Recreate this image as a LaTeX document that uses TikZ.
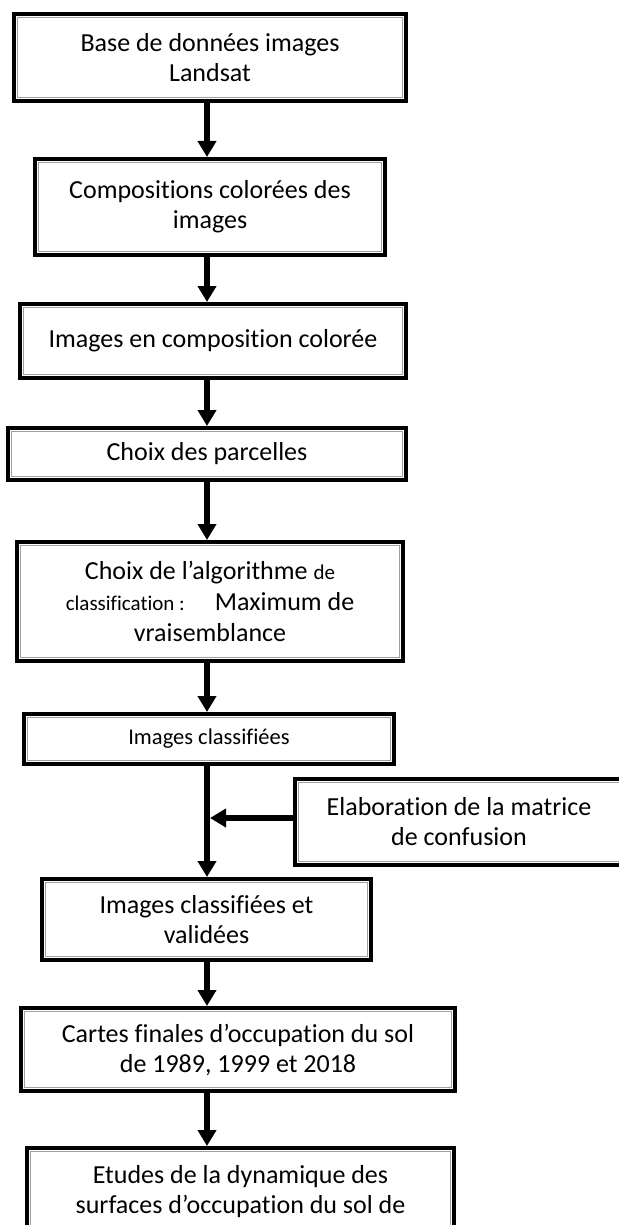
\documentclass[tikz,border=0pt]{standalone}
\usepackage{fontspec}
\setmainfont{Carlito}[Ligatures={NoCommon}]
\usetikzlibrary{arrows.meta}
\begin{document}
\begin{tikzpicture}[x=1pt,y=-1pt,
  box/.style={draw=black, line width=4pt, align=center, inner sep=0pt,
    font=\fontsize{26}{30}\selectfont, text=black},
  smallbox/.style={box, font=\fontsize{22.5}{27}\selectfont},
  arr/.style={line width=5.5pt, -{Triangle[length=16pt,width=18pt]}},
  inner/.style={draw=gray!75, line width=1.5pt}
]
\useasboundingbox (0,0) rectangle (618,1225);
\coordinate (spine) at (207,0);

\node[box, minimum width=392pt, minimum height=87pt] (b1) at (210,57.5)
  {Base de données images\\Landsat};
\node[box, minimum width=350pt, minimum height=96pt] (b2) at (210,207)
  {Compositions colorées des\\images};
\node[box, minimum width=386pt, minimum height=74pt] (b3) at (213,341)
  {Images en composition colorée};
\node[box, minimum width=398pt, minimum height=52pt] (b4) at (207,454)
  {Choix des parcelles};
\node[box, minimum width=386pt, minimum height=119pt,
  font=\fontsize{26}{31}\selectfont] (b5) at (210,601.5)
  {Choix de l’algorithme {\fontsize{21}{31}\selectfont de}\\
   {\fontsize{21}{31}\selectfont classification :}\hspace{30pt}Maximum de\\
   vraisemblance};
\node[smallbox, minimum width=370pt, minimum height=50pt] (b6) at (209,739)
  {Images classifiées};
\node[box, minimum width=328pt, minimum height=86pt] (elab) at (459,822)
  {Elaboration de la matrice\\de confusion};
\node[box, minimum width=329pt, minimum height=81pt] (b7) at (206.5,919.5)
  {Images classifiées et\\validées};
\node[box, minimum width=434pt, minimum height=83pt] (b8) at (238,1049.5)
  {Cartes finales d’occupation du sol\\de 1989, 1999 et 2018};
\node[box, minimum width=427pt, anchor=north, inner ysep=17pt, text depth=90pt] (b9) at (240.5,1146)
  {Etudes de la dynamique des\\surfaces d’occupation du sol de};

\foreach \n in {b1,b2,b3,b4,b5,b6,b7,b8,b9,elab}
  \draw[inner] ([xshift=5.5pt,yshift=-5.5pt]\n.north west) rectangle ([xshift=-5.5pt,yshift=5.5pt]\n.south east);

\draw[arr] (b1.south -| spine) -- (b2.north -| spine);
\draw[arr] (b2.south -| spine) -- (b3.north -| spine);
\draw[arr] (b3.south -| spine) -- (b4.north -| spine);
\draw[arr] (b4.south -| spine) -- (b5.north -| spine);
\draw[arr] (b5.south -| spine) -- (b6.north -| spine);
\draw[arr] (b6.south -| spine) -- (b7.north -| spine);
\draw[arr] (b7.south -| spine) -- (b8.north -| spine);
\draw[arr] (b8.south -| spine) -- (b9.north -| spine);
\draw[arr] ([yshift=4pt]elab.west) -- ([xshift=3pt,yshift=4pt]elab.west -| spine);
\end{tikzpicture}
\end{document}
